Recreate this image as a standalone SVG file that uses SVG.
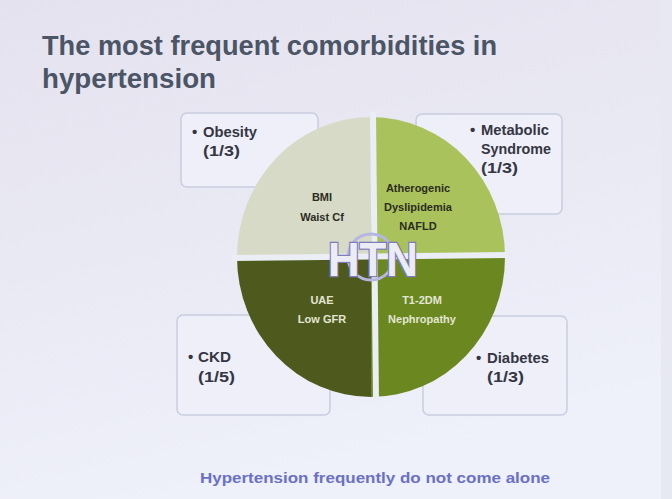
<svg xmlns="http://www.w3.org/2000/svg" width="672" height="499" viewBox="0 0 672 499">
<defs>
<linearGradient id="bg" x1="0" y1="0" x2="0.3" y2="1">
<stop offset="0" stop-color="#e4e2ee"/>
<stop offset="1" stop-color="#eef0fa"/>
</linearGradient>
<style>
.t{font-family:"Liberation Sans Narrow","Liberation Sans",Arial,sans-serif;font-weight:bold}
.title{font-size:28px;fill:#4b5566}
.box{fill:#eeeff8;stroke:#c9cde0;stroke-width:1.5}
.bt{font-size:15px;fill:#353642}
.qd{font-size:11px;fill:#2c2c22;text-anchor:middle}
.ql{font-size:11px;fill:#e4e6d4;text-anchor:middle}
.gap{stroke:#eceef5;stroke-width:6;fill:none}
</style>
</defs>
<rect width="672" height="499" fill="url(#bg)"/>
<rect x="661" y="0" width="11" height="499" fill="#e7e8f2"/>
<g id="title">
<text class="t title" x="42" y="55" textLength="455" lengthAdjust="spacingAndGlyphs">The most frequent comorbidities in</text>
<text class="t title" x="42" y="88" textLength="174" lengthAdjust="spacingAndGlyphs">hypertension</text>
</g>
<g id="box-obesity">
<rect class="box" x="181" y="113" width="137" height="74" rx="6"/>
<text class="t bt" x="192" y="137">•</text>
<text class="t bt" x="203" y="137" textLength="54" lengthAdjust="spacingAndGlyphs">Obesity</text>
<text class="t bt" x="203" y="156" textLength="37" lengthAdjust="spacingAndGlyphs">(1/3)</text>
</g>
<g id="box-metabolic">
<rect class="box" x="416" y="114" width="146" height="100" rx="6"/>
<text class="t bt" x="470" y="135">•</text>
<text class="t bt" x="481" y="135" textLength="68" lengthAdjust="spacingAndGlyphs">Metabolic</text>
<text class="t bt" x="481" y="154" textLength="70" lengthAdjust="spacingAndGlyphs">Syndrome</text>
<text class="t bt" x="481" y="173" textLength="37" lengthAdjust="spacingAndGlyphs">(1/3)</text>
</g>
<g id="box-ckd">
<rect class="box" x="177" y="315" width="153" height="100" rx="6"/>
<text class="t bt" x="188" y="362">•</text>
<text class="t bt" x="198" y="362" textLength="33" lengthAdjust="spacingAndGlyphs">CKD</text>
<text class="t bt" x="198" y="382" textLength="37" lengthAdjust="spacingAndGlyphs">(1/5)</text>
</g>
<g id="box-diabetes">
<rect class="box" x="423" y="316" width="144" height="99" rx="6"/>
<text class="t bt" x="476" y="363">•</text>
<text class="t bt" x="487" y="363" textLength="62" lengthAdjust="spacingAndGlyphs">Diabetes</text>
<text class="t bt" x="487" y="382" textLength="37" lengthAdjust="spacingAndGlyphs">(1/3)</text>
</g>
<g id="q-obesity">
<path d="M371,257 L237,257 A134,140 0 0 1 371,117 Z" fill="#d6dac6"/>
<text class="t qd" x="322" y="201">BMI</text>
<text class="t qd" x="322" y="221">Waist Cf</text>
</g>
<g id="q-metabolic">
<path d="M371,257 L505,257 A134,140 0 0 0 371,117 Z" fill="#a9c25b"/>
<text class="t qd" x="418" y="192">Atherogenic</text>
<text class="t qd" x="418" y="211">Dyslipidemia</text>
<text class="t qd" x="418" y="230">NAFLD</text>
</g>
<g id="q-ckd">
<path d="M371,257 L237,257 A134,140 0 0 0 371,397 Z" fill="#4e5a1d"/>
<text class="t ql" x="322" y="304">UAE</text>
<text class="t ql" x="322" y="323">Low GFR</text>
</g>
<g id="q-diabetes">
<path d="M371,257 L505,257 A134,140 0 0 1 371,397 Z" fill="#6a881f"/>
<text class="t ql" x="422" y="304">T1-2DM</text>
<text class="t ql" x="422" y="323">Nephropathy</text>
</g>
<g id="gaps">
<line class="gap" x1="373" y1="112" x2="376" y2="402"/>
<line class="gap" x1="232" y1="258" x2="508" y2="255"/>
</g>
<g id="htn">
<circle cx="371" cy="257" r="23" fill="none" stroke="#b6b6e4" stroke-width="3"/>
<text class="t" x="373" y="276" text-anchor="middle" font-size="48" fill="#ececf4" stroke="#7f7bbc" stroke-width="2.6" paint-order="stroke" textLength="90" lengthAdjust="spacingAndGlyphs">HTN</text>
</g>
<g id="connectors"/>
<g id="caption">
<text class="t" x="200" y="483" font-size="15" fill="#6b71c2" textLength="350" lengthAdjust="spacingAndGlyphs">Hypertension frequently do not come alone</text>
</g>
</svg>
